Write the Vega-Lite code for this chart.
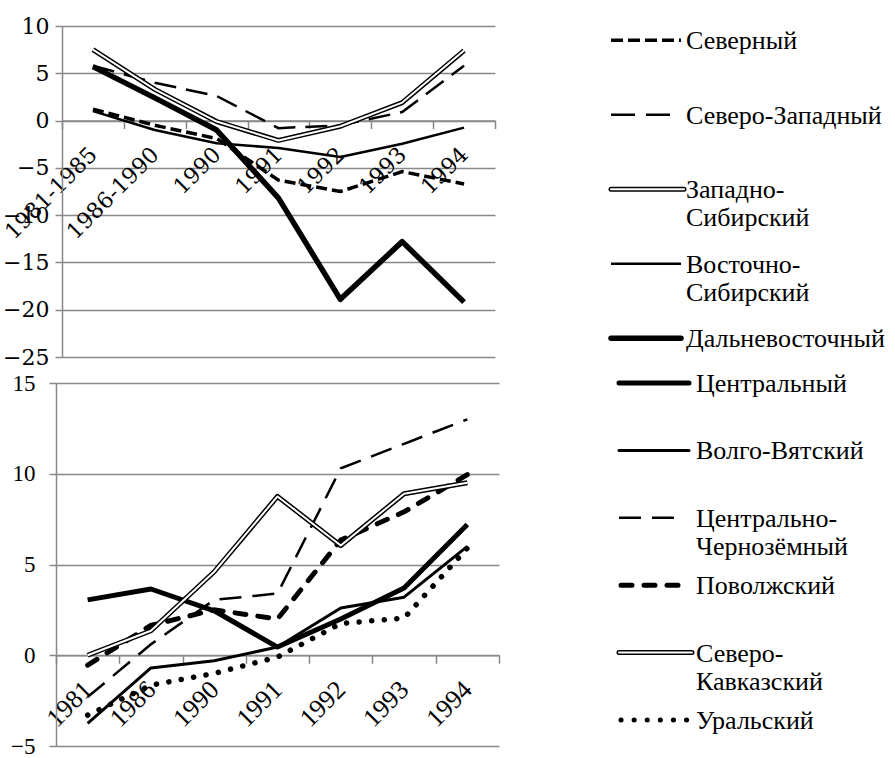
{
  "$schema": "https://vega.github.io/schema/vega-lite/v6.json",
  "padding": {"left": 0, "top": 15, "right": 0, "bottom": 0},
  "config": {
    "view": {"stroke": null},
    "axis": {"labelColor": "black", "title": null, "labelFont": "Times New Roman"},
    "text": {"font": "Times New Roman"}
  },
  "datasets": {
    "top": [
      {"series": "Северный", "period": "1981-1985", "value": 1.2},
      {"series": "Северный", "period": "1986-1990", "value": -0.5},
      {"series": "Северный", "period": "1990", "value": -1.9},
      {"series": "Северный", "period": "1991", "value": -6.3},
      {"series": "Северный", "period": "1992", "value": -7.5},
      {"series": "Северный", "period": "1993", "value": -5.4},
      {"series": "Северный", "period": "1994", "value": -6.7},
      {"series": "Северо-Западный", "period": "1981-1985", "value": 5.8},
      {"series": "Северо-Западный", "period": "1986-1990", "value": 4.0},
      {"series": "Северо-Западный", "period": "1990", "value": 2.6},
      {"series": "Северо-Западный", "period": "1991", "value": -0.8},
      {"series": "Северо-Западный", "period": "1992", "value": -0.5},
      {"series": "Северо-Западный", "period": "1993", "value": 0.9},
      {"series": "Северо-Западный", "period": "1994", "value": 5.8},
      {"series": "Западно-Сибирский", "period": "1981-1985", "value": 7.5},
      {"series": "Западно-Сибирский", "period": "1986-1990", "value": 3.3},
      {"series": "Западно-Сибирский", "period": "1990", "value": -0.1},
      {"series": "Западно-Сибирский", "period": "1991", "value": -2.1},
      {"series": "Западно-Сибирский", "period": "1992", "value": -0.6},
      {"series": "Западно-Сибирский", "period": "1993", "value": 1.9},
      {"series": "Западно-Сибирский", "period": "1994", "value": 7.4},
      {"series": "Восточно-Сибирский", "period": "1981-1985", "value": 1.0},
      {"series": "Восточно-Сибирский", "period": "1986-1990", "value": -1.0},
      {"series": "Восточно-Сибирский", "period": "1990", "value": -2.4},
      {"series": "Восточно-Сибирский", "period": "1991", "value": -2.9},
      {"series": "Восточно-Сибирский", "period": "1992", "value": -3.85},
      {"series": "Восточно-Сибирский", "period": "1993", "value": -2.45},
      {"series": "Восточно-Сибирский", "period": "1994", "value": -0.75},
      {"series": "Дальневосточный", "period": "1981-1985", "value": 5.7},
      {"series": "Дальневосточный", "period": "1986-1990", "value": 2.4},
      {"series": "Дальневосточный", "period": "1990", "value": -1.0},
      {"series": "Дальневосточный", "period": "1991", "value": -8.2},
      {"series": "Дальневосточный", "period": "1992", "value": -18.9},
      {"series": "Дальневосточный", "period": "1993", "value": -12.8},
      {"series": "Дальневосточный", "period": "1994", "value": -19.2}
    ],
    "bottom": [
      {"series": "Центральный", "period": "1981", "value": 3.05},
      {"series": "Центральный", "period": "1986", "value": 3.65},
      {"series": "Центральный", "period": "1990", "value": 2.45},
      {"series": "Центральный", "period": "1991", "value": 0.45},
      {"series": "Центральный", "period": "1992", "value": 2.0},
      {"series": "Центральный", "period": "1993", "value": 3.7},
      {"series": "Центральный", "period": "1994", "value": 7.2},
      {"series": "Волго-Вятский", "period": "1981", "value": -3.75},
      {"series": "Волго-Вятский", "period": "1986", "value": -0.7},
      {"series": "Волго-Вятский", "period": "1990", "value": -0.3},
      {"series": "Волго-Вятский", "period": "1991", "value": 0.45},
      {"series": "Волго-Вятский", "period": "1992", "value": 2.6},
      {"series": "Волго-Вятский", "period": "1993", "value": 3.2},
      {"series": "Волго-Вятский", "period": "1994", "value": 6.0},
      {"series": "Центрально-Черноземный", "period": "1981", "value": -2.3},
      {"series": "Центрально-Черноземный", "period": "1986", "value": 0.6},
      {"series": "Центрально-Черноземный", "period": "1990", "value": 3.05},
      {"series": "Центрально-Черноземный", "period": "1991", "value": 3.4},
      {"series": "Центрально-Черноземный", "period": "1992", "value": 10.3},
      {"series": "Центрально-Черноземный", "period": "1993", "value": 11.65},
      {"series": "Центрально-Черноземный", "period": "1994", "value": 13.0},
      {"series": "Поволжский", "period": "1981", "value": -0.55},
      {"series": "Поволжский", "period": "1986", "value": 1.65},
      {"series": "Поволжский", "period": "1990", "value": 2.5},
      {"series": "Поволжский", "period": "1991", "value": 2.0},
      {"series": "Поволжский", "period": "1992", "value": 6.35},
      {"series": "Поволжский", "period": "1993", "value": 7.9},
      {"series": "Поволжский", "period": "1994", "value": 9.95},
      {"series": "Северо-Кавказский", "period": "1981", "value": 0.0},
      {"series": "Северо-Кавказский", "period": "1986", "value": 1.35},
      {"series": "Северо-Кавказский", "period": "1990", "value": 4.6},
      {"series": "Северо-Кавказский", "period": "1991", "value": 8.75},
      {"series": "Северо-Кавказский", "period": "1992", "value": 6.05},
      {"series": "Северо-Кавказский", "period": "1993", "value": 8.9},
      {"series": "Северо-Кавказский", "period": "1994", "value": 9.5},
      {"series": "Уральский", "period": "1981", "value": -3.3},
      {"series": "Уральский", "period": "1986", "value": -1.65},
      {"series": "Уральский", "period": "1990", "value": -1.0},
      {"series": "Уральский", "period": "1991", "value": -0.1},
      {"series": "Уральский", "period": "1992", "value": 1.75},
      {"series": "Уральский", "period": "1993", "value": 2.05},
      {"series": "Уральский", "period": "1994", "value": 5.9}
    ],
    "legTop": [
      {"series": "Северный", "label": "Северный", "order": 0},
      {"series": "Северо-Западный", "label": "Северо-Западный", "order": 1},
      {"series": "Западно-Сибирский", "label": "Западно-\nСибирский", "order": 2},
      {"series": "Восточно-Сибирский", "label": "Восточно-\nСибирский", "order": 3},
      {"series": "Дальневосточный", "label": "Дальневосточный", "order": 4}
    ],
    "legBot": [
      {"series": "Центральный", "label": "Центральный", "order": 0},
      {"series": "Волго-Вятский", "label": "Волго-Вятский", "order": 1},
      {"series": "Центрально-Черноземный", "label": "Центрально-\nЧернозёмный", "order": 2},
      {"series": "Поволжский", "label": "Поволжский", "order": 3},
      {"series": "Северо-Кавказский", "label": "Северо-\nКавказский", "order": 4},
      {"series": "Уральский", "label": "Уральский", "order": 5}
    ]
  },
  "spacing": 3,
  "vconcat": [
    {
      "bounds": "flush",
      "spacing": 0,
      "hconcat": [
        {
          "width": 6, "height": 331,
          "data": {"values": [{}]},
          "mark": {"type": "text"},
          "encoding": {"text": {"value": ""}}
        },
        {
          "width": 433, "height": 331,
          "data": {"name": "top"},
          "encoding": {
            "x": {
              "field": "period", "type": "ordinal",
              "scale": {"type": "band", "domain": ["1981-1985", "1986-1990", "1990", "1991", "1992", "1993", "1994"], "paddingInner": 0, "paddingOuter": 0},
              "axis": {
                "orient": "bottom", "offset": -236.43, "tickBand": "extent", "grid": false,
                "domainColor": "#888888", "domainWidth": 1.5,
                "tickSize": 8, "tickColor": "#888888", "tickWidth": 1.5,
                "labelAngle": -45, "labelAlign": "right", "labelBaseline": "middle", "labelPadding": 22,
                "labelFont": "DejaVu Serif", "labelFontSize": 22, "labelOverlap": false, "labelBound": false
              }
            },
            "y": {
              "field": "value", "type": "quantitative",
              "scale": {"domain": [-25, 10], "nice": false, "zero": false},
              "axis": {
                "values": [-25, -20, -15, -10, -5, 0, 5, 10],
                "grid": true, "gridColor": "#888888", "gridWidth": 1.5,
                "domainColor": "#888888", "domainWidth": 1.5,
                "tickSize": 7, "tickColor": "#888888", "tickWidth": 1.5,
                "labelFont": "DejaVu Serif", "labelFontSize": 22, "labelPadding": 6,
                "labelFlush": false, "labelOverlap": false
              }
            }
          },
          "layer": [
            {"transform": [{"filter": {"field": "series", "equal": "Северный"}}],
             "mark": {"type": "line", "color": "black", "strokeWidth": 3.5, "strokeDash": [11, 5]}},
            {"transform": [{"filter": {"field": "series", "equal": "Северо-Западный"}}],
             "mark": {"type": "line", "color": "black", "strokeWidth": 2.5, "strokeDash": [22, 10]}},
            {"transform": [{"filter": {"field": "series", "equal": "Западно-Сибирский"}}],
             "mark": {"type": "line", "color": "black", "strokeWidth": 5, "strokeJoin": "round"}},
            {"transform": [{"filter": {"field": "series", "equal": "Западно-Сибирский"}}],
             "mark": {"type": "line", "color": "white", "strokeWidth": 2, "strokeJoin": "round"}},
            {"transform": [{"filter": {"field": "series", "equal": "Восточно-Сибирский"}}],
             "mark": {"type": "line", "color": "black", "strokeWidth": 2.5, "strokeJoin": "round"}},
            {"transform": [{"filter": {"field": "series", "equal": "Дальневосточный"}}],
             "mark": {"type": "line", "color": "black", "strokeWidth": 5.5, "strokeJoin": "round"}}
          ]
        },
        {
          "width": 399, "height": 331,
          "data": {"name": "legTop"},
          "encoding": {
            "y": {"field": "order", "type": "quantitative", "scale": {"domain": [-0.19, 4.253], "reverse": true, "nice": false, "zero": false}, "axis": null}
          },
          "layer": [
            {"transform": [{"filter": {"field": "series", "equal": "Северный"}}],
             "mark": {"type": "rule", "color": "black", "strokeWidth": 3.5, "strokeDash": [12, 5]},
             "encoding": {"x": {"datum": 116, "type": "quantitative", "scale": {"domain": [0, 399], "nice": false}, "axis": null}, "x2": {"datum": 186}}},
            {"transform": [{"filter": {"field": "series", "equal": "Северо-Западный"}}],
             "mark": {"type": "rule", "color": "black", "strokeWidth": 2.5, "strokeDash": [24, 11]},
             "encoding": {"x": {"datum": 116, "type": "quantitative", "scale": {"domain": [0, 399], "nice": false}, "axis": null}, "x2": {"datum": 186}}},
            {"transform": [{"filter": {"field": "series", "equal": "Западно-Сибирский"}}],
             "mark": {"type": "rule", "color": "black", "strokeWidth": 5, "strokeCap": "round"},
             "encoding": {"x": {"datum": 116, "type": "quantitative", "scale": {"domain": [0, 399], "nice": false}, "axis": null}, "x2": {"datum": 189}}},
            {"transform": [{"filter": {"field": "series", "equal": "Западно-Сибирский"}}],
             "mark": {"type": "rule", "color": "white", "strokeWidth": 2, "strokeCap": "round"},
             "encoding": {"x": {"datum": 116, "type": "quantitative", "scale": {"domain": [0, 399], "nice": false}, "axis": null}, "x2": {"datum": 189}}},
            {"transform": [{"filter": {"field": "series", "equal": "Восточно-Сибирский"}}],
             "mark": {"type": "rule", "color": "black", "strokeWidth": 2.5},
             "encoding": {"x": {"datum": 116, "type": "quantitative", "scale": {"domain": [0, 399], "nice": false}, "axis": null}, "x2": {"datum": 186}}},
            {"transform": [{"filter": {"field": "series", "equal": "Дальневосточный"}}],
             "mark": {"type": "rule", "color": "black", "strokeWidth": 5.5, "strokeCap": "round"},
             "encoding": {"x": {"datum": 116, "type": "quantitative", "scale": {"domain": [0, 399], "nice": false}, "axis": null}, "x2": {"datum": 186}}},
            {"mark": {"type": "text", "align": "left", "baseline": "top", "dy": -12, "font": "Times New Roman", "fontSize": 26, "lineBreak": "\n", "lineHeight": 28, "color": "black"},
             "encoding": {"x": {"datum": 191, "type": "quantitative", "scale": {"domain": [0, 399], "nice": false}, "axis": null}, "text": {"field": "label"}}}
          ]
        }
      ]
    },
    {
      "bounds": "flush",
      "spacing": 0,
      "hconcat": [
        {
          "width": 443, "height": 363,
          "data": {"name": "bottom"},
          "encoding": {
            "x": {
              "field": "period", "type": "ordinal",
              "scale": {"type": "band", "domain": ["1981", "1986", "1990", "1991", "1992", "1993", "1994"], "paddingInner": 0, "paddingOuter": 0},
              "axis": {
                "orient": "bottom", "offset": -90.75, "tickBand": "extent", "grid": false,
                "domainColor": "#888888", "domainWidth": 1.5,
                "tickSize": 8, "tickColor": "#888888", "tickWidth": 1.5,
                "labelAngle": -45, "labelAlign": "right", "labelBaseline": "middle", "labelPadding": 22,
                "labelFont": "Times New Roman", "labelFontSize": 26, "labelOverlap": false, "labelBound": false
              }
            },
            "y": {
              "field": "value", "type": "quantitative",
              "scale": {"domain": [-5, 15], "nice": false, "zero": false},
              "axis": {
                "values": [-5, 0, 5, 10, 15],
                "grid": true, "gridColor": "#888888", "gridWidth": 1.5,
                "domainColor": "#888888", "domainWidth": 1.5,
                "tickSize": 7, "tickColor": "#888888", "tickWidth": 1.5,
                "labelFont": "Times New Roman", "labelFontSize": 23, "labelPadding": 14,
                "labelFlush": false, "labelOverlap": false
              }
            }
          },
          "layer": [
            {"transform": [{"filter": {"field": "series", "equal": "Центральный"}}],
             "mark": {"type": "line", "color": "black", "strokeWidth": 5, "strokeJoin": "round"}},
            {"transform": [{"filter": {"field": "series", "equal": "Волго-Вятский"}}],
             "mark": {"type": "line", "color": "black", "strokeWidth": 3, "strokeJoin": "round"}},
            {"transform": [{"filter": {"field": "series", "equal": "Центрально-Черноземный"}}],
             "mark": {"type": "line", "color": "black", "strokeWidth": 2.5, "strokeDash": [22, 11]}},
            {"transform": [{"filter": {"field": "series", "equal": "Поволжский"}}],
             "mark": {"type": "line", "color": "black", "strokeWidth": 5, "strokeDash": [11, 12], "strokeCap": "round"}},
            {"transform": [{"filter": {"field": "series", "equal": "Северо-Кавказский"}}],
             "mark": {"type": "line", "color": "black", "strokeWidth": 5, "strokeJoin": "round"}},
            {"transform": [{"filter": {"field": "series", "equal": "Северо-Кавказский"}}],
             "mark": {"type": "line", "color": "white", "strokeWidth": 2, "strokeJoin": "round"}},
            {"transform": [{"filter": {"field": "series", "equal": "Уральский"}}],
             "mark": {"type": "line", "color": "black", "strokeWidth": 5.5, "strokeDash": [0.1, 12.5], "strokeCap": "round"}}
          ]
        },
        {
          "width": 395, "height": 363,
          "data": {"name": "legBot"},
          "encoding": {
            "y": {"field": "order", "type": "quantitative", "scale": {"domain": [0, 5.386], "reverse": true, "nice": false, "zero": false}, "axis": null}
          },
          "layer": [
            {"transform": [{"filter": {"field": "series", "equal": "Центральный"}}],
             "mark": {"type": "rule", "color": "black", "strokeWidth": 5, "strokeCap": "round"},
             "encoding": {"x": {"datum": 120, "type": "quantitative", "scale": {"domain": [0, 395], "nice": false}, "axis": null}, "x2": {"datum": 190}}},
            {"transform": [{"filter": {"field": "series", "equal": "Волго-Вятский"}}],
             "mark": {"type": "rule", "color": "black", "strokeWidth": 3, "strokeCap": "round"},
             "encoding": {"x": {"datum": 120, "type": "quantitative", "scale": {"domain": [0, 395], "nice": false}, "axis": null}, "x2": {"datum": 190}}},
            {"transform": [{"filter": {"field": "series", "equal": "Центрально-Черноземный"}}],
             "mark": {"type": "rule", "color": "black", "strokeWidth": 2.5, "strokeDash": [22, 11]},
             "encoding": {"x": {"datum": 120, "type": "quantitative", "scale": {"domain": [0, 395], "nice": false}, "axis": null}, "x2": {"datum": 180}}},
            {"transform": [{"filter": {"field": "series", "equal": "Поволжский"}}],
             "mark": {"type": "rule", "color": "black", "strokeWidth": 5, "strokeDash": [11, 12], "strokeCap": "round"},
             "encoding": {"x": {"datum": 122, "type": "quantitative", "scale": {"domain": [0, 395], "nice": false}, "axis": null}, "x2": {"datum": 186}}},
            {"transform": [{"filter": {"field": "series", "equal": "Северо-Кавказский"}}],
             "mark": {"type": "rule", "color": "black", "strokeWidth": 5, "strokeCap": "round"},
             "encoding": {"x": {"datum": 120, "type": "quantitative", "scale": {"domain": [0, 395], "nice": false}, "axis": null}, "x2": {"datum": 193}}},
            {"transform": [{"filter": {"field": "series", "equal": "Северо-Кавказский"}}],
             "mark": {"type": "rule", "color": "white", "strokeWidth": 2, "strokeCap": "round"},
             "encoding": {"x": {"datum": 120, "type": "quantitative", "scale": {"domain": [0, 395], "nice": false}, "axis": null}, "x2": {"datum": 193}}},
            {"transform": [{"filter": {"field": "series", "equal": "Уральский"}}],
             "mark": {"type": "rule", "color": "black", "strokeWidth": 5, "strokeDash": [0.1, 13], "strokeCap": "round"},
             "encoding": {"x": {"datum": 122, "type": "quantitative", "scale": {"domain": [0, 395], "nice": false}, "axis": null}, "x2": {"datum": 190}}},
            {"mark": {"type": "text", "align": "left", "baseline": "top", "dy": -12, "font": "Times New Roman", "fontSize": 26, "lineBreak": "\n", "lineHeight": 28, "color": "black"},
             "encoding": {"x": {"datum": 197, "type": "quantitative", "scale": {"domain": [0, 395], "nice": false}, "axis": null}, "text": {"field": "label"}}}
          ]
        }
      ]
    }
  ]
}
